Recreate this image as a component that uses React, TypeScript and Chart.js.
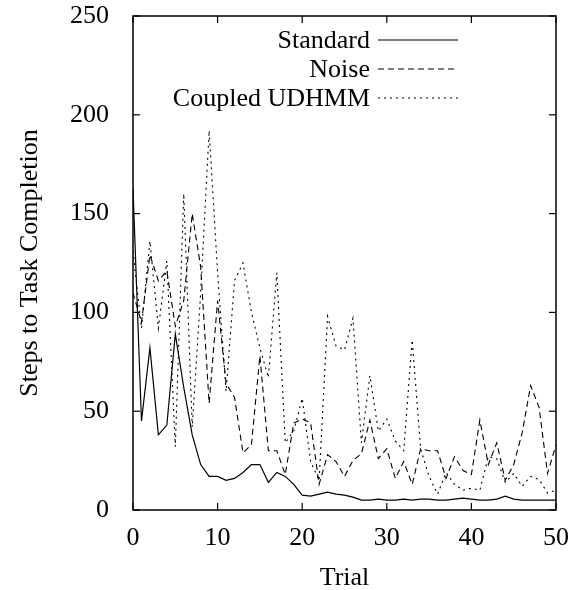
import React, { useEffect, useRef } from 'react';
import { Chart, registerables } from 'chart.js';

Chart.register(...registerables);

const trials = [
  0, 1, 2, 3, 4, 5, 6, 7, 8, 9, 10, 11, 12, 13, 14, 15, 16, 17, 18, 19, 20,
  21, 22, 23, 24, 25, 26, 27, 28, 29, 30, 31, 32, 33, 34, 35, 36, 37, 38, 39, 40,
  41, 42, 43, 44, 45, 46, 47, 48, 49, 50,
];

const standard = [
  163, 45, 82, 38, 43, 89, 62, 38, 23, 17, 17, 15, 16, 19, 23, 23, 14, 19, 17, 13, 7.5,
  7, 8, 9, 8, 7.5, 6.5, 5, 5, 5.5, 5, 5, 5.5, 5, 5.5, 5.5, 5, 5, 5.5, 6, 5.5,
  5, 5, 5.5, 7, 5.5, 5, 5, 5, 5, 5,
];

const noise = [
  110, 95, 129, 116, 121, 93, 106, 150, 123, 54, 106, 64, 57, 29, 33, 78, 30, 30, 18, 44, 46,
  44, 13, 28, 24.5, 17, 25, 28.5, 45.5, 26, 31, 16, 24.5, 13, 31, 30, 30, 16, 27, 20, 18,
  45.5, 23, 34, 15, 23, 39, 63, 52, 18.5, 33,
];

const coupled = [
  131, 92, 136, 92, 126, 32, 160, 42, 110, 192, 120, 60, 116, 125, 100, 82, 67, 120, 34, 40, 56.5,
  24.5, 15, 98, 83, 81, 97, 34, 68, 40, 46, 35, 30, 86, 31, 17, 8, 19, 13, 10, 11,
  10, 27, 26, 14, 18.5, 12, 17, 15.5, 8.6, 10,
];

const seriesNames = ['Standard', 'Noise', 'Coupled UDHMM'];
const xTicks = [0, 10, 20, 30, 40, 50];
const yTicks = [0, 50, 100, 150, 200, 250];
const xTitle = 'Trial';
const yTitle = 'Steps to Task Completion';

const FONT = '"Liberation Serif", "Times New Roman", serif';
const FS = 26;
const dashes = [[], [6, 4], [2, 4]];

const framePlugin = {
  id: 'gnuplotFrame',
  afterDatasetsDraw(chart: any) {
    const { ctx, chartArea, scales } = chart;
    const { left, right, top, bottom } = chartArea;
    const x = scales.x;
    const y = scales.y;
    ctx.save();
    ctx.strokeStyle = '#000';
    ctx.lineWidth = 1.5;
    ctx.setLineDash([]);
    ctx.strokeRect(left, top, right - left, bottom - top);
    ctx.lineWidth = 1.2;
    const tl = 7;
    const line = (x1: number, y1: number, x2: number, y2: number) => {
      ctx.beginPath();
      ctx.moveTo(x1, y1);
      ctx.lineTo(x2, y2);
      ctx.stroke();
    };
    xTicks.forEach((v) => {
      const px = x.getPixelForValue(v);
      line(px, bottom, px, bottom - tl);
      line(px, top, px, top + tl);
    });
    yTicks.forEach((v) => {
      const py = y.getPixelForValue(v);
      line(left, py, left + tl, py);
      line(right, py, right - tl, py);
    });

    // legend (gnuplot style, inside top)
    ctx.font = `${FS}px ${FONT}`;
    ctx.fillStyle = '#000';
    ctx.textAlign = 'right';
    ctx.textBaseline = 'middle';
    const legX = 370;
    const rows = [40, 69, 98];
    chart.data.datasets.forEach((ds: any, i: number) => {
      const ry = rows[i];
      ctx.fillText(ds.label, legX, ry + 1);
      ctx.setLineDash(dashes[i]);
      ctx.lineWidth = 1.1;
      line(378, ry, 458, ry);
    });
    ctx.setLineDash([]);

    // axis titles
    ctx.textAlign = 'center';
    ctx.textBaseline = 'middle';
    ctx.fillText(xTitle, (left + right) / 2, 578);
    ctx.save();
    ctx.translate(30, (top + bottom) / 2);
    ctx.rotate(-Math.PI / 2);
    ctx.fillText(yTitle, 0, 0);
    ctx.restore();
    ctx.restore();
  },
};

export default function App() {
  const ref = useRef<HTMLCanvasElement | null>(null);

  useEffect(() => {
    if (!ref.current) return;
    const series = [standard, noise, coupled];
    const chart = new Chart(ref.current, {
      type: 'line',
      data: {
        datasets: series.map((s, i) => ({
          label: seriesNames[i],
          data: trials.map((t, j) => ({ x: t, y: s[j] })),
          borderColor: '#000',
          backgroundColor: '#000',
          borderWidth: i === 0 ? 1.2 : 1.1,
          borderDash: dashes[i],
          pointRadius: 0,
          tension: 0,
          fill: false,
        })),
      },
      options: {
        responsive: false,
        animation: false,
        layout: { padding: { left: 0, top: 16, right: 18, bottom: 0 } },
        plugins: {
          legend: { display: false },
          tooltip: { enabled: false },
        },
        scales: {
          x: {
            type: 'linear',
            min: 0,
            max: 50,
            afterBuildTicks: (scale: any) => {
              scale.ticks = xTicks.map((v) => ({ value: v }));
            },
            afterFit: (scale: any) => {
              scale.height = 80;
              scale.paddingLeft = 0;
              scale.paddingRight = 0;
            },
            grid: { display: false },
            border: { display: false },
            ticks: {
              color: '#000',
              font: { family: FONT, size: FS },
              padding: 5,
              maxRotation: 0,
            },
          },
          y: {
            min: 0,
            max: 250,
            afterBuildTicks: (scale: any) => {
              scale.ticks = yTicks.map((v) => ({ value: v }));
            },
            afterFit: (scale: any) => {
              scale.width = 133;
              scale.paddingTop = 0;
              scale.paddingBottom = 0;
            },
            grid: { display: false },
            border: { display: false },
            ticks: {
              color: '#000',
              font: { family: FONT, size: FS },
              padding: 16,
            },
          },
        },
      },
      plugins: [framePlugin],
    });
    return () => chart.destroy();
  }, []);

  return (
    <div style={{ position: 'absolute', left: 0, top: 0, width: 574, height: 590, background: '#fff' }}>
      <canvas ref={ref} width={574} height={590} style={{ width: 574, height: 590 }} />
    </div>
  );
}
